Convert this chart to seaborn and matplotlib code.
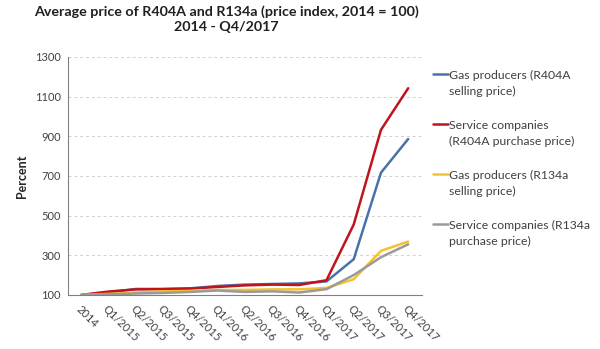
import matplotlib
matplotlib.use("Agg")
import matplotlib.pyplot as plt
from matplotlib.lines import Line2D
import seaborn as sns
import pandas as pd

# Quarterly price index (2014 = 100)
periods = ["2014", "Q1/2015", "Q2/2015", "Q3/2015", "Q4/2015", "Q1/2016", "Q2/2016",
           "Q3/2016", "Q4/2016", "Q1/2017", "Q2/2017", "Q3/2017", "Q4/2017"]

gas_r404a = [100, 112, 130, 130, 133, 145, 152, 155, 158, 168, 280, 716, 886]
service_r404a = [100, 117, 128, 129, 132, 140, 148, 152, 150, 174, 455, 932, 1142]
gas_r134a = [100, 105, 112, 118, 120, 125, 125, 128, 128, 135, 179, 322, 369]
service_r134a = [100, 103, 107, 110, 115, 122, 115, 118, 112, 129, 200, 290, 355]

series_names = [
    "Gas producers (R404A selling price)",
    "Service companies (R404A purchase price)",
    "Gas producers (R134a selling price)",
    "Service companies (R134a purchase price)",
]
legend_lines = [
    ["Gas producers (R404A", "selling price)"],
    ["Service companies", "(R404A purchase price)"],
    ["Gas producers (R134a", "selling price)"],
    ["Service companies (R134a", "purchase price)"],
]
series_values = [gas_r404a, service_r404a, gas_r134a, service_r134a]
colors = ["#4A72A8", "#C0141C", "#F6C22A", "#9A9A9A"]

frames = []
for name, vals in zip(series_names, series_values):
    frames.append(pd.DataFrame({"pos": range(len(periods)), "value": vals, "series": name}))
df = pd.concat(frames, ignore_index=True)

sns.set_style("white")
plt.rcParams["font.family"] = ["Lato", "DejaVu Sans"]

W, H = 600, 349
fig = plt.figure(figsize=(W / 100, H / 100), dpi=100)
ax = fig.add_axes([0.113, 0.155, 0.590, 0.682])

sns.lineplot(data=df, x="pos", y="value", hue="series", hue_order=series_names,
             palette=colors, linewidth=1.8, ax=ax, legend=False)

ax.set_xlim(-0.5, len(periods) - 0.5)
ax.set_ylim(100, 1300)
ax.set_yticks(range(100, 1301, 200))
ax.tick_params(axis="y", labelsize=8, length=3, color="#808080", labelcolor="#404040", pad=2)

# category labels centred on points, tick marks between categories
ax.set_xticks(range(len(periods)))
ax.set_xticklabels(periods, rotation=-45, ha="left", va="top", rotation_mode="anchor",
                   fontsize=8, color="#404040")
ax.tick_params(axis="x", which="major", length=0, pad=6)
ax.set_xticks([i - 0.5 for i in range(len(periods) + 1)], minor=True)
ax.tick_params(axis="x", which="minor", length=3, color="#808080")

ax.yaxis.grid(True, linestyle=(0, (3, 3)), color="#D0D0D0", linewidth=0.7)
ax.set_axisbelow(True)
for side in ["top", "right"]:
    ax.spines[side].set_visible(False)
for side in ["left", "bottom"]:
    ax.spines[side].set_color("#808080")
    ax.spines[side].set_linewidth(0.8)

ax.set_xlabel("")
ax.set_ylabel("Percent", fontsize=9, fontweight="bold", labelpad=5)

# legend: key aligned with the first line of each two-line label
for i, (lines, color) in enumerate(zip(legend_lines, colors)):
    key_y = 74 + 50 * i
    fig.add_artist(Line2D([433 / W, 448 / W], [1 - key_y / H, 1 - key_y / H],
                          color=color, linewidth=1.8))
    for j, txt in enumerate(lines):
        fig.text(449 / W, 1 - (key_y + 5 + 16 * j) / H, txt, fontsize=8.8,
                 color="#404040", ha="left", va="baseline")

fig.suptitle("Average price of R404A and R134a (price index, 2014 = 100)\n2014 - Q4/2017",
             x=0.378, y=0.985, fontsize=10.3, fontweight="bold", color="#202020",
             linespacing=1.26)

fig.savefig("out.png", dpi=100, facecolor="white")
